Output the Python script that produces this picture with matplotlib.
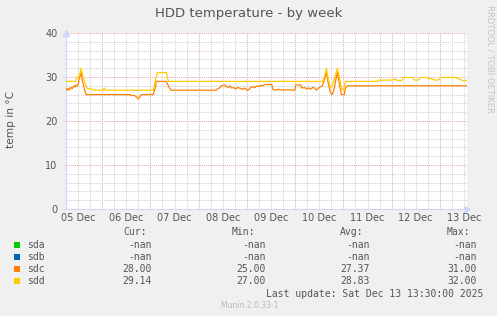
import numpy as np
import matplotlib
matplotlib.use("Agg")
import matplotlib.pyplot as plt
import matplotlib.dates as mdates
from matplotlib.patches import Rectangle

# ---------------- data ----------------
t0 = np.datetime64("2025-12-05T00:00")
x_start_h = 6.0
x_end_h = 205.5

# sdc (orange): hours since 05 Dec 00:00, temperature
sdc_h = [6.1, 6.6, 7.1, 7.6, 8.1, 8.6, 9.1, 9.6, 10.1, 10.6, 11.1, 11.6, 12.1, 12.5,
         13.5, 14.0, 15.0, 16.0, 37.9, 38.4, 40.0, 41.0, 42.0, 43.5, 49.4, 50.4, 50.9,
         55.9, 56.9, 57.4, 58.4, 80.8, 81.3, 82.3, 83.4, 84.9, 85.9, 86.9, 87.4, 88.4,
         89.4, 90.4, 91.4, 92.9, 93.9, 94.9, 95.9, 96.9, 97.9, 98.9, 99.9, 100.9, 101.9,
         102.9, 103.9, 104.9, 108.4, 108.8, 109.8, 111.8, 113.8, 115.8, 119.8, 120.3,
         122.8, 123.2, 124.7, 125.7, 126.7, 127.7, 128.7, 129.7, 130.7, 131.7, 132.7,
         133.6, 134.6, 135.5, 136.5, 137.5, 138.5, 139.5, 140.5, 141.0, 142.0, 143.0,
         144.5, 145.0, 146.0, 205.5]
sdc_v = [27.3, 27.0, 27.4, 27.1, 27.5, 27.6, 27.3, 27.8, 28.0, 27.7, 28.2, 28.0, 28.4, 29.5,
         31.0, 29.5, 27.5, 26.0, 26.0, 25.8, 25.8, 25.5, 25.0, 26.0, 26.0, 27.5, 29.0,
         29.0, 28.0, 27.5, 27.0, 27.0, 27.3, 27.5, 28.0, 28.2, 27.8, 27.6, 28.0, 27.5,
         27.6, 27.3, 27.6, 27.4, 27.2, 27.5, 27.0, 27.1, 27.6, 27.8, 27.6, 28.0, 27.8,
         28.1, 28.0, 28.3, 28.3, 27.3, 27.0, 27.2, 27.0, 27.1, 27.0, 28.2,
         28.2, 27.5, 27.6, 27.3, 27.5, 27.2, 27.6, 27.5, 27.0, 27.5, 27.8,
         28.0, 29.5, 31.0, 28.5, 26.5, 26.0, 27.5, 30.0, 31.0, 28.5, 26.0,
         26.0, 27.5, 28.0, 28.0]

# sdd (yellow)
sdd_h = [6.1, 10.6, 11.6, 12.5, 13.5, 14.5, 15.5, 16.5, 17.5, 18.5, 19.5, 24.5, 25.0, 25.5,
         49.4, 50.4, 51.4, 55.9, 56.9, 133.6, 134.6, 135.5, 136.5, 137.5, 138.5, 139.5,
         141.0, 142.0, 143.0, 144.0, 145.0, 161.0, 161.5, 168.0, 170.0, 171.0, 173.0,
         173.9, 178.4, 179.4, 181.4, 182.4, 185.3, 186.3, 188.3, 189.3, 191.3, 192.3,
         199.8, 201.3, 203.3, 205.5]
sdd_v = [29.0, 29.0, 30.0, 30.0, 32.0, 30.0, 28.5, 27.5, 27.2, 27.5, 27.0, 27.0, 27.5, 27.0,
         27.0, 29.0, 31.0, 31.0, 29.0, 29.0, 30.0, 32.0, 29.5, 27.5, 28.0, 29.5,
         32.0, 30.0, 27.5, 27.0, 29.0, 29.0, 29.3, 29.3, 29.5, 29.2, 29.2,
         29.9, 29.9, 29.3, 29.3, 29.9, 29.9, 29.6, 29.6, 29.3, 29.3, 29.9,
         29.9, 29.6, 29.2, 29.2]

series_names = ["sda", "sdb", "sdc", "sdd"]
series_colors = ["#00cc00", "#0066b3", "#ff8000", "#ffcc00"]
cur_vals = ["-nan", "-nan", "28.00", "29.14"]
min_vals = ["-nan", "-nan", "25.00", "27.00"]
avg_vals = ["-nan", "-nan", "27.37", "28.83"]
max_vals = ["-nan", "-nan", "31.00", "32.00"]

title = "HDD temperature - by week"
ylabel = "temp in °C"
last_update = "Last update: Sat Dec 13 13:30:00 2025"

# ---------------- figure ----------------
W, H = 497, 316
fig = plt.figure(figsize=(W / 100, H / 100), dpi=100, facecolor="#f0f0f0")

def fx(px):
    return px / W

def fy(py):
    return 1 - py / H

ax = fig.add_axes([fx(66), fy(209), fx(467) - fx(66), fy(33) - fy(209)])
ax.set_facecolor("white")

def to_dt(hours):
    return t0 + (np.array(hours) * 60).astype("timedelta64[m]")

ax.plot(to_dt(sdc_h), sdc_v, color=series_colors[2], lw=0.9, zorder=3)
ax.plot(to_dt(sdd_h), sdd_v, color=series_colors[3], lw=0.9, zorder=4)

ax.set_xlim(to_dt([x_start_h])[0], to_dt([x_end_h])[0])
ax.set_ylim(0, 40)

txt = "#555555"
grid_minor = "#d0d0d0"
grid_major = "#f0a8a8"
axis_col = "#cfd6f8"

# x grid: red at midnight, grey every 6 h
ax.xaxis.set_major_locator(mdates.DayLocator())
ax.xaxis.set_major_formatter(plt.NullFormatter())
ax.xaxis.set_minor_locator(mdates.HourLocator(byhour=[6, 12, 18]))
ax.yaxis.set_major_locator(plt.MultipleLocator(10))
ax.yaxis.set_minor_locator(plt.MultipleLocator(2))

ax.grid(which="major", color=grid_major, lw=0.75, ls=(0, (1, 1)), zorder=1)
ax.grid(which="minor", color=grid_minor, lw=0.75, ls=(0, (1, 1)), zorder=1)
ax.set_axisbelow(True)

ax.tick_params(axis="x", which="both", length=0)
ax.tick_params(axis="y", which="major", length=2, color=axis_col, labelsize=7,
               labelcolor=txt, pad=4)
ax.tick_params(axis="y", which="minor", length=0)

# day labels at noon
sec = ax.secondary_xaxis("bottom")
sec.xaxis.set_major_locator(mdates.HourLocator(byhour=12))
sec.xaxis.set_major_formatter(mdates.DateFormatter("%d Dec"))
sec.tick_params(length=0, labelsize=7, labelcolor=txt, pad=3)
sec.spines["bottom"].set_visible(False)

for s in ["top", "right"]:
    ax.spines[s].set_visible(False)
for s in ["left", "bottom"]:
    ax.spines[s].set_color(axis_col)
    ax.spines[s].set_linewidth(0.8)

# axis arrows
ax.plot([0], [1.0], marker="^", ms=4, color=axis_col, transform=ax.transAxes,
        clip_on=False, zorder=5)
ax.plot([1.0], [0], marker=">", ms=4, color=axis_col, transform=ax.transAxes,
        clip_on=False, zorder=5)

fig.text(fx(11), fy(120), ylabel, rotation=90, ha="center", va="center",
         fontsize=7.6, color=txt)

fig.text(0.5, fy(13), title, ha="center", va="center", fontsize=9.5, color=txt)

fig.text(fx(490), fy(5), "RRDTOOL / TOBI OETIKER", rotation=270, ha="center",
         va="top", fontsize=6, color="#c4c4c4")

# ---------------- legend ----------------
mono = "DejaVu Sans Mono"
fs = 7
hdr_y = 232
for label, xpos in [("Cur:", 123), ("Min:", 232), ("Avg:", 340), ("Max:", 447)]:
    fig.text(fx(xpos), fy(hdr_y), label, ha="left", va="center", fontsize=fs,
             family=mono, color=txt)

row_y = [245, 257, 269, 281]
for i, name in enumerate(series_names):
    y = row_y[i]
    fig.patches.append(Rectangle((fx(14), fy(y + 3)), fx(6), fy(y - 3) - fy(y + 3),
                                 transform=fig.transFigure, facecolor=series_colors[i],
                                 edgecolor="none"))
    fig.text(fx(27), fy(y), name, ha="left", va="center", fontsize=fs,
             family=mono, color=txt)
    fig.text(fx(152), fy(y), cur_vals[i], ha="right", va="center", fontsize=fs,
             family=mono, color=txt)
    fig.text(fx(266), fy(y), min_vals[i], ha="right", va="center", fontsize=fs,
             family=mono, color=txt)
    fig.text(fx(370), fy(y), avg_vals[i], ha="right", va="center", fontsize=fs,
             family=mono, color=txt)
    fig.text(fx(477), fy(y), max_vals[i], ha="right", va="center", fontsize=fs,
             family=mono, color=txt)

fig.text(fx(483), fy(294), last_update, ha="right", va="center", fontsize=fs,
         family=mono, color=txt)
fig.text(fx(250), fy(305), "Munin 2.0.33-1", ha="center", va="center", fontsize=5.5,
         color="#b8b8b8")

fig.savefig("out.png", dpi=100, facecolor=fig.get_facecolor())
